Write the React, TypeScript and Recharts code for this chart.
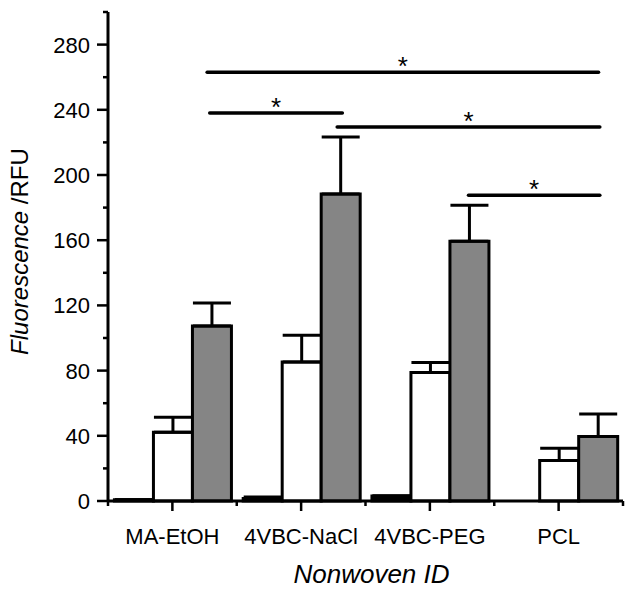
import React from 'react';
import { BarChart, Bar, XAxis, YAxis, ErrorBar, ReferenceLine } from 'recharts';

// values
const categories = ['MA-EtOH', '4VBC-NaCl', '4VBC-PEG', 'PCL'];
const firstValues = [0.8, 1.5, 3, 0];
const firstErrors = [0, 1, 0, 0];
const whiteValues = [42.2, 85.3, 78.8, 24.8];
const whiteErrors = [9.2, 16.4, 6.1, 7.6];
const grayValues = [107.4, 188.4, 159.4, 39.5];
const grayErrors = [14.1, 34.9, 22.1, 13.9];

const yTicks = [0, 20, 40, 60, 80, 100, 120, 140, 160, 180, 200, 220, 240, 260, 280, 300];

// significance brackets: x in category index units (0 = first group centre), y in RFU
const sigFrom = [0.27, 0.29, 1.28, 2.3];
const sigTo = [3.31, 1.32, 3.32, 3.32];
const sigY = [263, 238, 229.4, 187.6];

const data = categories.map((name, i) => ({
  name,
  first: firstValues[i],
  firstErr: [0, firstErrors[i]],
  white: whiteValues[i],
  whiteErr: [0, whiteErrors[i]],
  gray: grayValues[i],
  grayErr: [0, grayErrors[i]],
}));

const FONT = '"Liberation Sans", Arial, sans-serif';
const HALF_BAND = (630 - 7 - 108) / categories.length / 2;

const YTick = (props: any) => {
  const { x, y, payload } = props;
  const major = payload.value % 40 === 0;
  return (
    <g>
      <line x1={x} x2={x - (major ? 11 : 5)} y1={y} y2={y} stroke="#000" strokeWidth={2.5} />
      {major && (
        <text x={x - 18} y={y} dy="0.36em" textAnchor="end" fontSize={22} fontFamily={FONT} fill="#000">
          {payload.value}
        </text>
      )}
    </g>
  );
};

const XTick = (props: any) => {
  const { x, y, payload, index } = props;
  const half = payload.offset || 0;
  return (
    <g>
      <line x1={x} x2={x} y1={y} y2={y + 10} stroke="#000" strokeWidth={2.5} />
      <line x1={x - half} x2={x - half} y1={y} y2={y + 5} stroke="#000" strokeWidth={2.5} />
      {index === categories.length - 1 && (
        <line x1={x + half} x2={x + half} y1={y} y2={y + 5} stroke="#000" strokeWidth={2.5} />
      )}
      <text x={x} y={y + 43} textAnchor="middle" fontSize={22} fontFamily={FONT} fill="#000">
        {payload.value}
      </text>
    </g>
  );
};

const yTitle = (props: any) => {
  const vb = props.viewBox;
  const cx = 19;
  const cy = vb.y + vb.height / 2 - 5;
  return (
    <text
      x={cx}
      y={cy}
      transform={`rotate(-90 ${cx} ${cy})`}
      textAnchor="middle"
      dominantBaseline="central"
      fontSize={24}
      fontFamily={FONT}
      fill="#000"
    >
      <tspan fontStyle="italic">Fluorescence</tspan>
      <tspan> /RFU</tspan>
    </text>
  );
};

const xTitle = (props: any) => {
  const vb = props.viewBox;
  return (
    <text
      x={vb.x + vb.width / 2 + 6}
      y={583}
      textAnchor="middle"
      fontSize={26}
      fontStyle="italic"
      fontFamily={FONT}
      fill="#000"
    >
      Nonwoven ID
    </text>
  );
};

const starLabel = (props: any) => {
  const vb = props.viewBox;
  return (
    <text x={vb.x + vb.width / 2} y={vb.y + 3} textAnchor="middle" fontSize={26} fontFamily={FONT} fill="#000">
      *
    </text>
  );
};

export default function App() {
  return (
    <div style={{ position: 'absolute', left: 0, top: 0, background: '#fff' }}>
      <BarChart
        width={630}
        height={590}
        data={data}
        margin={{ top: 12, right: 7, left: 0, bottom: 0 }}
        barCategoryGap="5%"
        barGap={0}
      >
        <XAxis
          xAxisId="cat"
          dataKey="name"
          height={89}
          axisLine={{ stroke: '#000', strokeWidth: 3 }}
          tickLine={false}
          tickSize={0}
          tickMargin={0}
          tick={<XTick />}
          interval={0}
          label={xTitle}
        />
        <XAxis
          xAxisId="sig"
          type="number"
          domain={[0, categories.length - 1]}
          allowDataOverflow
          padding={{ left: HALF_BAND, right: HALF_BAND }}
          hide
        />
        <YAxis
          width={108}
          domain={[0, 300]}
          ticks={yTicks}
          interval={0}
          axisLine={{ stroke: '#000', strokeWidth: 3 }}
          tickLine={false}
          tickSize={0}
          tickMargin={0}
          tick={<YTick />}
          label={yTitle}
        />
        <Bar xAxisId="cat" dataKey="first" fill="#000" stroke="#000" strokeWidth={3} isAnimationActive={false}>
          <ErrorBar dataKey="firstErr" width={19} stroke="#000" strokeWidth={3} direction="y" />
        </Bar>
        <Bar xAxisId="cat" dataKey="white" fill="#fff" stroke="#000" strokeWidth={3} isAnimationActive={false}>
          <ErrorBar dataKey="whiteErr" width={19} stroke="#000" strokeWidth={3} direction="y" />
        </Bar>
        <Bar xAxisId="cat" dataKey="gray" fill="#858585" stroke="#000" strokeWidth={3} isAnimationActive={false}>
          <ErrorBar dataKey="grayErr" width={19} stroke="#000" strokeWidth={3} direction="y" />
        </Bar>
        {sigY.map((yv, i) => (
          <ReferenceLine
            key={i}
            xAxisId="sig"
            ifOverflow="visible"
            segment={[
              { x: sigFrom[i], y: yv },
              { x: sigTo[i], y: yv },
            ]}
            stroke="#000"
            strokeWidth={3.5}
            strokeLinecap="round"
            label={starLabel}
          />
        ))}
      </BarChart>
    </div>
  );
}
